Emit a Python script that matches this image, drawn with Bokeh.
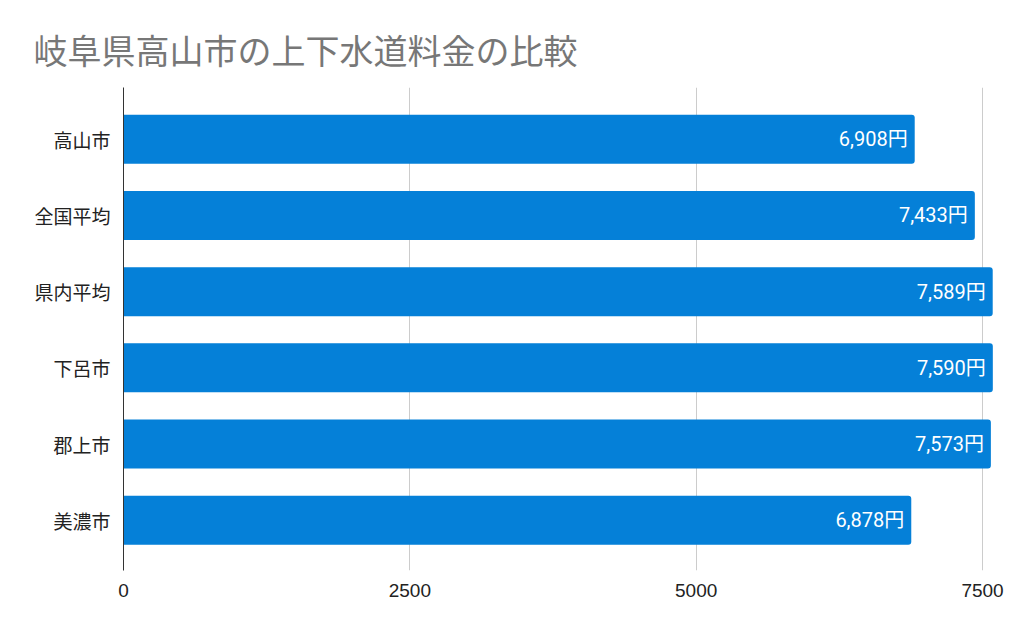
from bokeh.plotting import figure
from bokeh.models import ColumnDataSource, FixedTicker, Range1d
from bokeh.embed import file_html
from bokeh.resources import INLINE
from bokeh.core.properties import value

# data
cities = ["高山市", "全国平均", "県内平均", "下呂市", "郡上市", "美濃市"]
prices = [6908, 7433, 7589, 7590, 7573, 6878]
labels = ["6,908円", "7,433円", "7,589円", "7,590円", "7,573円", "6,878円"]
x_ticks = [0, 2500, 5000, 7500]

pos = list(range(len(cities) - 1, -1, -1))

src = ColumnDataSource(data=dict(y=pos, price=prices, label=labels))

p = figure(width=1016, height=625, output_backend="svg", toolbar_location=None,
           x_range=Range1d(0, 7657), y_range=Range1d(-0.66, 5.68),
           min_border_left=123, min_border_right=16, min_border_top=87,
           min_border_bottom=55)

p.title.text = "岐阜県高山市の上下水道料金の比較"
p.title.text_font = "Noto Sans CJK JP"
p.title.text_font_size = "34px"
p.title.text_font_style = "normal"
p.title.text_color = "#777777"
p.title.align = "left"
p.title.offset = -90
p.title.standoff = 28

p.hbar(y="y", left=0, right="price", height=0.643, source=src,
       fill_color="#0580d8", line_color=None, border_radius=(0, 3, 3, 0))

p.text(x="price", y="y", text="label", source=src, x_offset=-7,
       text_align="right", text_baseline="middle", text_color="white",
       text_font=value("Roboto, 'Noto Sans CJK JP'"), text_font_size="20px")

p.outline_line_color = None
p.ygrid.grid_line_color = None
p.xgrid.grid_line_color = "#cccccc"
p.xgrid.ticker = FixedTicker(ticks=x_ticks)

p.xaxis.ticker = FixedTicker(ticks=x_ticks)
p.xaxis.axis_line_color = None
p.xaxis.major_tick_line_color = None
p.xaxis.minor_tick_line_color = None
p.xaxis.major_label_text_font = "Liberation Sans"
p.xaxis.major_label_text_font_size = "19px"
p.xaxis.major_label_text_color = "#222222"
p.xaxis.major_label_standoff = 7

p.yaxis.ticker = FixedTicker(ticks=pos)
p.yaxis.major_label_overrides = {pos[i]: cities[i] for i in range(len(cities))}
p.yaxis.axis_line_color = "#333333"
p.yaxis.major_tick_line_color = None
p.yaxis.minor_tick_line_color = None
p.yaxis.major_label_text_font = "Noto Sans CJK JP"
p.yaxis.major_label_text_font_size = "19px"
p.yaxis.major_label_text_color = "#222222"
p.yaxis.major_label_standoff = 7

open("out.html", "w").write(file_html(p, INLINE))
